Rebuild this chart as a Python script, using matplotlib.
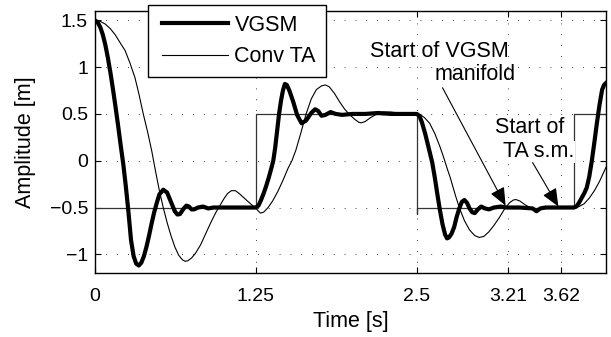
import matplotlib
matplotlib.use("Agg")
import matplotlib.pyplot as plt
from matplotlib.legend_handler import HandlerLine2D

# ---------------- data ----------------
ref_t = [0, 1.25, 1.25, 2.5, 2.5, 2.5, 3.72, 3.72, 3.97]
ref_v = [-0.5, -0.5, 0.5, 0.5, -0.57, -0.5, -0.5, 0.5, 0.5]

vgsm_t = [0, 0.02, 0.04, 0.06, 0.08, 0.10, 0.12, 0.14, 0.16, 0.18, 0.20, 0.22, 0.24, 0.26,
          0.28, 0.30, 0.32, 0.34, 0.36, 0.38, 0.40, 0.42, 0.44, 0.46, 0.48, 0.50, 0.53, 0.56,
          0.59, 0.62, 0.64, 0.66, 0.69, 0.71, 0.73, 0.75, 0.77, 0.80, 0.84, 0.88, 0.92, 1.0,
          1.1, 1.25,
          1.27, 1.29, 1.31, 1.33, 1.35, 1.37, 1.385, 1.40, 1.415, 1.43, 1.445, 1.46, 1.475,
          1.49, 1.51, 1.54, 1.57, 1.605, 1.64, 1.68, 1.71, 1.735, 1.76, 1.79, 1.83, 1.87,
          1.92, 2.0, 2.1, 2.2, 2.3, 2.4, 2.5,
          2.52, 2.54, 2.565, 2.59, 2.62, 2.64, 2.66, 2.68, 2.70, 2.72, 2.735, 2.75, 2.77,
          2.79, 2.81, 2.83, 2.85, 2.87, 2.89, 2.91, 2.93, 2.95, 2.975, 3.0, 3.03, 3.06, 3.1,
          3.15, 3.2, 3.3, 3.4, 3.43, 3.46, 3.5, 3.6, 3.72,
          3.74, 3.76, 3.78, 3.80, 3.82, 3.84, 3.86, 3.88, 3.90, 3.92, 3.94, 3.955, 3.97]
vgsm_v = [1.5, 1.48, 1.43, 1.35, 1.24, 1.10, 0.94, 0.76, 0.57, 0.37, 0.16, -0.04, -0.28, -0.55,
          -0.85, -1.02, -1.10, -1.12, -1.09, -1.02, -0.92, -0.80, -0.67, -0.55, -0.45, -0.36,
          -0.31, -0.34, -0.44, -0.54, -0.575, -0.57, -0.51, -0.48, -0.49, -0.52, -0.52, -0.50,
          -0.49, -0.51, -0.50, -0.50, -0.50, -0.50,
          -0.48, -0.42, -0.35, -0.27, -0.18, -0.08, 0.0, 0.14, 0.32, 0.50, 0.64, 0.75, 0.82,
          0.81, 0.75, 0.63, 0.49, 0.40, 0.43, 0.51, 0.55, 0.53, 0.48, 0.49, 0.52, 0.50,
          0.49, 0.50, 0.50, 0.51, 0.50, 0.50, 0.50,
          0.48, 0.41, 0.29, 0.15, -0.02, -0.18, -0.36, -0.53, -0.68, -0.79, -0.83, -0.82,
          -0.78, -0.71, -0.60, -0.51, -0.44, -0.42, -0.45, -0.51, -0.55, -0.56, -0.52, -0.49,
          -0.51, -0.52, -0.50, -0.49, -0.50, -0.50, -0.51, -0.54, -0.51, -0.50, -0.50, -0.50,
          -0.49, -0.45, -0.40, -0.35, -0.29, -0.17, 0.0, 0.2, 0.41, 0.6, 0.76, 0.81, 0.83]

conv_t = [0, 0.04, 0.08, 0.12, 0.16, 0.20, 0.233, 0.27, 0.31, 0.34, 0.375, 0.41, 0.44, 0.47,
          0.50, 0.53, 0.56, 0.59, 0.62, 0.65, 0.68, 0.70, 0.72, 0.75, 0.78, 0.82, 0.86, 0.90,
          0.94, 0.97, 1.00, 1.03, 1.06, 1.09, 1.12, 1.16, 1.20, 1.25, 1.285,
          1.31, 1.345, 1.38, 1.42, 1.46, 1.50, 1.53, 1.56, 1.60, 1.64, 1.68, 1.72, 1.76, 1.79,
          1.82, 1.86, 1.90, 1.94, 1.98, 2.02, 2.05, 2.07, 2.10, 2.14, 2.19, 2.24, 2.30, 2.36,
          2.42, 2.5,
          2.53, 2.56, 2.60, 2.64, 2.68, 2.71, 2.74, 2.76, 2.80, 2.83, 2.87, 2.91, 2.95, 2.985,
          3.02, 3.06, 3.10, 3.14, 3.18, 3.22, 3.25, 3.27, 3.30, 3.34, 3.38, 3.42, 3.46, 3.5,
          3.6, 3.72,
          3.76, 3.80, 3.84, 3.88, 3.92, 3.97]
conv_v = [1.5, 1.49, 1.46, 1.41, 1.34, 1.25, 1.18, 1.05, 0.89, 0.72, 0.50, 0.30, 0.11, -0.11,
          -0.32, -0.50, -0.66, -0.80, -0.92, -1.01, -1.06, -1.075, -1.07, -1.04, -0.99, -0.90,
          -0.78, -0.66, -0.55, -0.48, -0.41, -0.35, -0.32, -0.32, -0.35, -0.40, -0.45, -0.51,
          -0.56,
          -0.55, -0.50, -0.43, -0.33, -0.21, -0.08, 0.0, 0.11, 0.30, 0.50, 0.66, 0.76, 0.80,
          0.81, 0.79, 0.72, 0.63, 0.55, 0.49, 0.44, 0.41, 0.405, 0.42, 0.46, 0.50, 0.52, 0.52,
          0.51, 0.50, 0.50,
          0.49, 0.46, 0.40, 0.29, 0.15, 0.03, -0.10, -0.18, -0.37, -0.50, -0.64, -0.74, -0.80,
          -0.82, -0.81, -0.76, -0.69, -0.61, -0.52, -0.45, -0.42, -0.415, -0.43, -0.47, -0.50,
          -0.52, -0.52, -0.51, -0.50, -0.50,
          -0.49, -0.46, -0.40, -0.32, -0.22, -0.07]

xticks = [0, 1.25, 2.5, 3.21, 3.62]
xtick_labels = ["0", "1.25", "2.5", "3.21", "3.62"]
yticks = [-1, -0.5, 0, 0.5, 1, 1.5]
ytick_labels = ["\u22121", "\u22120.5", "0", "0.5", "1", "1.5"]

# ---------------- figure ----------------
plt.rcParams['font.family'] = ['Liberation Sans', 'DejaVu Sans']
FS = 15.5
TFS = 14

fig = plt.figure(figsize=(6.11, 3.37), dpi=100)
ax = fig.add_axes([95 / 611, 1 - 273 / 337, (606 - 95) / 611, (273 - 11) / 337])

ax.plot(ref_t, ref_v, color='#333333', lw=0.9, zorder=2)
l1, = ax.plot(vgsm_t, vgsm_v, color='black', lw=3.0, solid_joinstyle='round', zorder=4, label='VGSM')
l2, = ax.plot(conv_t, conv_v, color='black', lw=0.8, zorder=3, label='Conv TA')

ax.set_xlim(0, 3.97)
ax.set_ylim(-1.2, 1.6)
ax.set_xticks(xticks)
ax.set_xticklabels(xtick_labels)
ax.set_yticks(yticks)
ax.set_yticklabels(ytick_labels)
ax.tick_params(direction='in', length=4, width=0.8, top=True, right=True,
               labelsize=TFS, colors='black')
ax.tick_params(axis='x', pad=11)
ax.tick_params(axis='y', pad=5)
for s in ax.spines.values():
    s.set_linewidth(1.0)
ax.grid(True, color='black', lw=0.6, linestyle=(0, (1, 12)))
ax.set_axisbelow(True)

ax.set_xlabel('Time [s]', fontsize=FS, labelpad=4)
ax.set_ylabel('Amplitude [m]', fontsize=FS, labelpad=10)

# annotations
ax.text(2.135, 1.167, 'Start of VGSM', fontsize=FS, ha='left', va='center')
ax.text(2.64, 0.92, 'manifold', fontsize=FS, ha='left', va='center')
ax.annotate('', xy=(3.19, -0.48), xytext=(2.70, 0.78),
            arrowprops=dict(arrowstyle='-|>,head_length=0.85,head_width=0.36',
                            color='black', lw=0.8, mutation_scale=13, shrinkA=0, shrinkB=0))
ax.text(3.106, 0.36, 'Start of', fontsize=FS, ha='left', va='center',
        bbox=dict(facecolor='white', edgecolor='none', pad=0.5))
ax.text(3.168, 0.095, 'TA s.m.', fontsize=FS, ha='left', va='center',
        bbox=dict(facecolor='white', edgecolor='none', pad=0.5))
ax.annotate('', xy=(3.60, -0.49), xytext=(3.40, -0.02),
            arrowprops=dict(arrowstyle='-|>,head_length=0.85,head_width=0.36',
                            color='black', lw=0.8, mutation_scale=13, shrinkA=0, shrinkB=0))

px = FS * 100 / 72.0
bp = 0.45
hl = (228 - 148) / px - bp
xp = (162 - 148) / px - bp
leg = ax.legend(handles=[l1, l2], loc='upper left',
                bbox_to_anchor=(148 / 611, 1 - 5 / 337), bbox_transform=fig.transFigure,
                borderaxespad=0, fontsize=FS, frameon=True, fancybox=False, framealpha=1,
                edgecolor='black', handlelength=hl, handletextpad=0.3, labelspacing=0.5,
                borderpad=bp, handler_map={l1: HandlerLine2D(xpad=xp), l2: HandlerLine2D(xpad=xp)})
leg.get_frame().set_linewidth(1.0)
leg.set_zorder(10)

fig.savefig('out.png', dpi=100)
